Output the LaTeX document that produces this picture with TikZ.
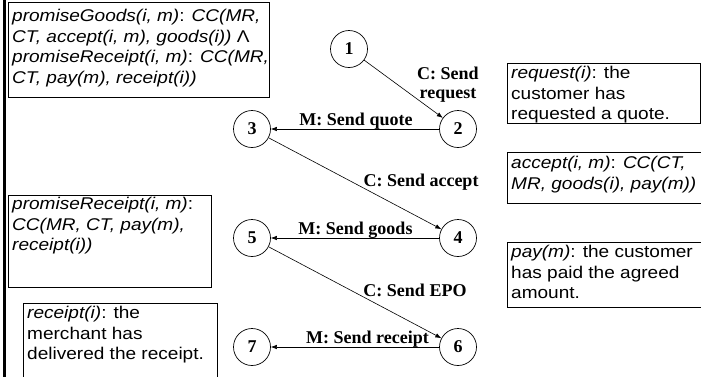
\documentclass[tikz,border=0pt]{standalone}
\usepackage{fontspec}
\usetikzlibrary{arrows.meta}
\newfontfamily\boxfont[FakeStretch=1.12]{Liberation Sans}
\newfontfamily\lblfont{Liberation Serif}
\begin{document}
\begin{tikzpicture}[x=1pt,y=-1pt,
  state/.style={draw,circle,minimum size=37pt,inner sep=0pt,line width=0.7pt,font=\lblfont\bfseries\fontsize{18}{18}\selectfont},
  lbl/.style={font=\lblfont\bfseries\fontsize{18}{20}\selectfont,inner sep=0pt,anchor=base,align=center},
  txt/.style={font=\boxfont\fontsize{17}{20.5}\selectfont,inner sep=0pt,anchor=north west,align=left},
  frame/.style={draw,line width=0.7pt},
  conn/.style={line width=0.6pt,-{Latex[length=6pt,width=4.5pt]}}]
\useasboundingbox (0,0) rectangle (701,376);
\clip (0,0) rectangle (701,376);
% left thick rule
\draw[line width=2.7pt] (4.7,-2) -- (4.7,380);
% boxes
\draw[frame] (8,2) rectangle (269,97);
\node[txt] (t1) at (12,9) {\textit{promiseGoods(i, m)}: \textit{CC(MR,}\\\textit{CT, accept(i, m), goods(i))} Λ\\\textit{promiseReceipt(i, m)}: \textit{CC(MR,}\\\textit{CT, pay(m), receipt(i))}};
\draw[frame] (8,195) rectangle (211,287);
\node[txt] (t2) at (12,197) {\textit{promiseReceipt(i, m)}:\\\textit{CC(MR, CT, pay(m),}\\\textit{receipt(i))}};
\draw[frame] (23,303) rectangle (217,380);
\node[txt] (t3) at (27,306) {\textit{receipt(i)}: the\\merchant has\\delivered the receipt.};
\draw[frame] (507,63) rectangle (700,123);
\node[txt] (t4) at (511,66) {\textit{request(i)}: the\\customer has\\requested a quote.};
\draw[frame] (507,152) rectangle (703,203);
\node[txt] (t5) at (511,156) {\textit{accept(i, m)}: \textit{CC(CT,}\\\textit{MR, goods(i), pay(m))}};
\draw[frame] (507,242) rectangle (703,307);
\node[txt] (t6) at (511,245) {\textit{pay(m)}: the customer\\has paid the agreed\\amount.};
% states
\node[state] (s1) at (349,49) {1};
\node[state] (s2) at (458,129) {2};
\node[state] (s3) at (252,129) {3};
\node[state] (s4) at (458,238) {4};
\node[state] (s5) at (252,238) {5};
\node[state] (s6) at (458,347) {6};
\node[state] (s7) at (252,347) {7};
% connectors
\draw[conn] (s1) -- (s2);
\draw[conn] (s2) -- (s3);
\draw[conn] (s3) -- (s4);
\draw[conn] (s4) -- (s5);
\draw[conn] (s5) -- (s6);
\draw[conn] (s6) -- (s7);
% labels
\node[lbl] (l1) at (448,79) {C: Send};
\node[lbl] (l1b) at (448,98) {request};
\node[lbl] (l2) at (356,125) {M: Send quote};
\node[lbl] (l3) at (421,186) {C: Send accept};
\node[lbl] (l4) at (355.5,234) {M: Send goods};
\node[lbl] (l5) at (415,296) {C: Send EPO};
\node[lbl] (l6) at (367.5,343) {M: Send receipt};
\end{tikzpicture}
\end{document}
